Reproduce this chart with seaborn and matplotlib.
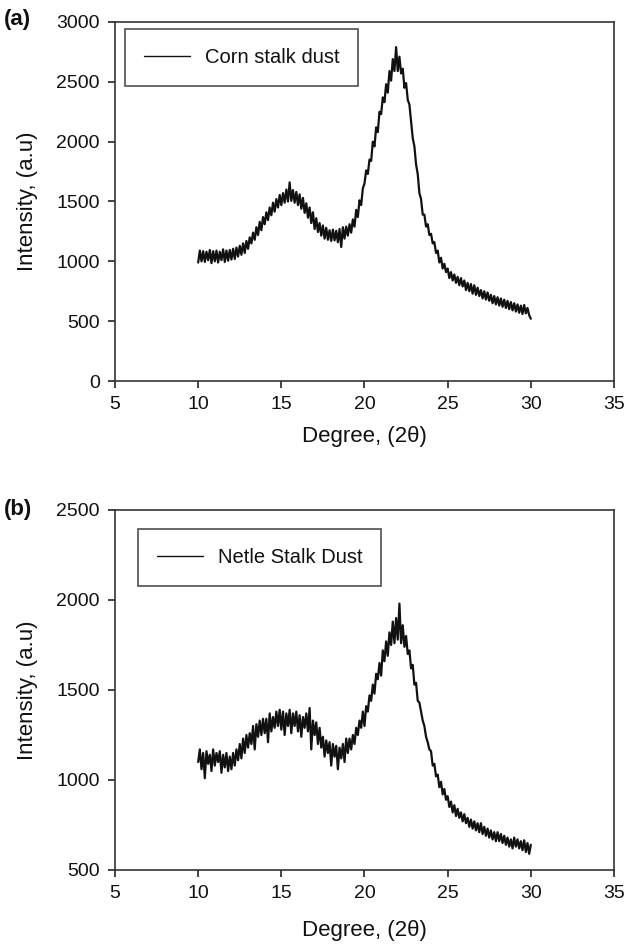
import numpy as np
import pandas as pd
import matplotlib
matplotlib.use("Agg")
import matplotlib.pyplot as plt
import seaborn as sns

# ---- data (0.1 degree steps from 10 to 30) ----
corn_label = "Corn stalk dust"
corn_intensity = [
    990, 1090, 1000, 1085, 995, 1080, 1010, 1095, 985, 1085,
    1000, 1090, 990, 1080, 1010, 1100, 995, 1090, 1005, 1095,
    1015, 1105, 1020, 1115, 1040, 1130, 1055, 1150, 1070, 1170,
    1105, 1200, 1150, 1240, 1180, 1285, 1220, 1330, 1260, 1370,
    1310, 1410, 1345, 1450, 1385, 1490, 1415, 1520, 1450, 1555,
    1470, 1570, 1490, 1600, 1500, 1660, 1505, 1595, 1490, 1580,
    1470, 1560, 1440, 1530, 1405, 1485, 1365, 1450, 1320, 1410,
    1270, 1360, 1245, 1320, 1215, 1300, 1190, 1280, 1180, 1260,
    1170, 1265, 1175, 1255, 1160, 1270, 1120, 1285, 1190, 1290,
    1215, 1310, 1240, 1350, 1290, 1430, 1370, 1510, 1470, 1610,
    1650, 1760, 1730, 1850, 1840, 2000, 1960, 2120, 2080, 2250,
    2230, 2370, 2330, 2480, 2410, 2590, 2510, 2690, 2590, 2790,
    2590, 2710, 2570, 2610, 2450, 2490, 2350, 2310, 2170, 2030,
    1960, 1810, 1730, 1570, 1520, 1390, 1390, 1290, 1310, 1220,
    1230, 1150, 1160, 1070, 1090, 990, 1030, 940, 980, 910,
    940, 860, 910, 840, 890, 820, 870, 800, 860, 790,
    840, 760, 820, 750, 810, 730, 800, 720, 780, 710,
    760, 690, 750, 680, 740, 670, 720, 650, 710, 640,
    700, 630, 690, 620, 680, 610, 670, 600, 660, 590,
    650, 580, 640, 570, 630, 560, 635, 565, 610, 550, 520,
]

nettle_label = "Netle Stalk Dust"
nettle_intensity = [
    1100, 1170, 1060, 1150, 1010, 1160, 1090, 1140, 1050, 1170,
    1080, 1150, 1100, 1160, 1040, 1140, 1070, 1150, 1050, 1130,
    1060, 1150, 1080, 1170, 1110, 1200, 1120, 1230, 1150, 1250,
    1180, 1260, 1200, 1300, 1170, 1310, 1240, 1330, 1250, 1340,
    1260, 1340, 1210, 1370, 1270, 1350, 1290, 1380, 1300, 1390,
    1280, 1380, 1250, 1370, 1300, 1390, 1260, 1370, 1300, 1380,
    1270, 1360, 1240, 1350, 1290, 1370, 1270, 1400, 1170, 1330,
    1250, 1320, 1200, 1290, 1180, 1240, 1130, 1220, 1150, 1210,
    1080, 1200, 1130, 1190, 1060, 1180, 1120, 1200, 1100, 1230,
    1150, 1230, 1170, 1250, 1200, 1290, 1250, 1330, 1290, 1380,
    1300, 1410, 1380, 1470, 1440, 1530, 1480, 1590, 1560, 1650,
    1580, 1720, 1660, 1770, 1690, 1820, 1750, 1880, 1760, 1900,
    1780, 1980, 1760, 1860, 1740, 1800, 1700, 1720, 1620, 1640,
    1530, 1540, 1440, 1430, 1380, 1330, 1300, 1240, 1210, 1170,
    1160, 1080, 1090, 1020, 1030, 960, 990, 920, 950, 890,
    910, 850, 880, 820, 860, 800, 840, 790, 820, 770,
    810, 760, 790, 740, 780, 730, 770, 720, 760, 710,
    760, 700, 740, 690, 730, 680, 720, 670, 710, 660,
    710, 660, 700, 650, 690, 640, 680, 630, 670, 620,
    680, 630, 670, 620, 660, 610, 665, 600, 650, 590, 640,
]

x_ticks = [5, 10, 15, 20, 25, 30, 35]
corn_yticks = [0, 500, 1000, 1500, 2000, 2500, 3000]
nettle_yticks = [500, 1000, 1500, 2000, 2500]
panel_tags = ["(a)", "(b)"]
x_label = "Degree, (2θ)"
y_label = "Intensity, (a.u)"

# ---- styling ----
sns.set_theme(style="ticks")
plt.rcParams["font.family"] = ["Liberation Sans", "DejaVu Sans"]
plt.rcParams["text.color"] = "#111111"

fig = plt.figure(figsize=(6.28, 9.5), dpi=100)
W, H = 628, 950


def add_axes(left, top, right, bottom):
    return fig.add_axes([left / W, 1 - bottom / H, (right - left) / W, (bottom - top) / H])


ax1 = add_axes(115, 22, 614, 381)
ax2 = add_axes(115, 510, 614, 870)

panels = [
    (ax1, corn_intensity, corn_label, corn_yticks, (0.02, 0.98)),
    (ax2, nettle_intensity, nettle_label, nettle_yticks, (0.046, 0.947)),
]

for ax, vals, lab, yt, anchor in panels:
    deg = np.linspace(10, 30, len(vals))
    df = pd.DataFrame({"deg": deg, "val": vals, "sample": lab})
    sns.lineplot(data=df, x="deg", y="val", hue="sample", palette=["#111111"],
                 ax=ax, linewidth=1.6, estimator=None, sort=False)
    ax.set_xlim(x_ticks[0], x_ticks[-1])
    ax.set_ylim(yt[0], yt[-1])
    ax.set_xticks(x_ticks)
    ax.set_yticks(yt)
    ax.tick_params(axis="both", direction="out", length=5, width=1.1,
                   labelsize=14, colors="#111111", pad=6)
    for s in ax.spines.values():
        s.set_visible(True)
        s.set_linewidth(1.2)
        s.set_color("#333333")
    ax.set_xlabel(x_label, fontsize=16, color="#111111")
    ax.set_ylabel(y_label, fontsize=16, color="#111111")
    leg = ax.legend(loc="upper left", bbox_to_anchor=anchor, borderaxespad=0,
                    fontsize=14.5, frameon=True, fancybox=False,
                    handlelength=2.3, handletextpad=0.7, borderpad=0.95)
    leg.get_frame().set_edgecolor("#222222")
    leg.get_frame().set_linewidth(1.2)
    for line in leg.get_lines():
        line.set_linewidth(1.0)
    ax.grid(False)

ax1.xaxis.set_label_coords(0.5, -0.125)
ax1.yaxis.set_label_coords(-0.154, 0.5)
ax2.xaxis.set_label_coords(0.5, -0.139)
ax2.yaxis.set_label_coords(-0.154, 0.5)

fig.text(4 / W, 1 - 20 / H, panel_tags[0], fontsize=16, fontweight="bold", va="center", ha="left")
fig.text(4 / W, 1 - 510 / H, panel_tags[1], fontsize=16, fontweight="bold", va="center", ha="left")

fig.savefig("out.png", dpi=100, facecolor="white")
